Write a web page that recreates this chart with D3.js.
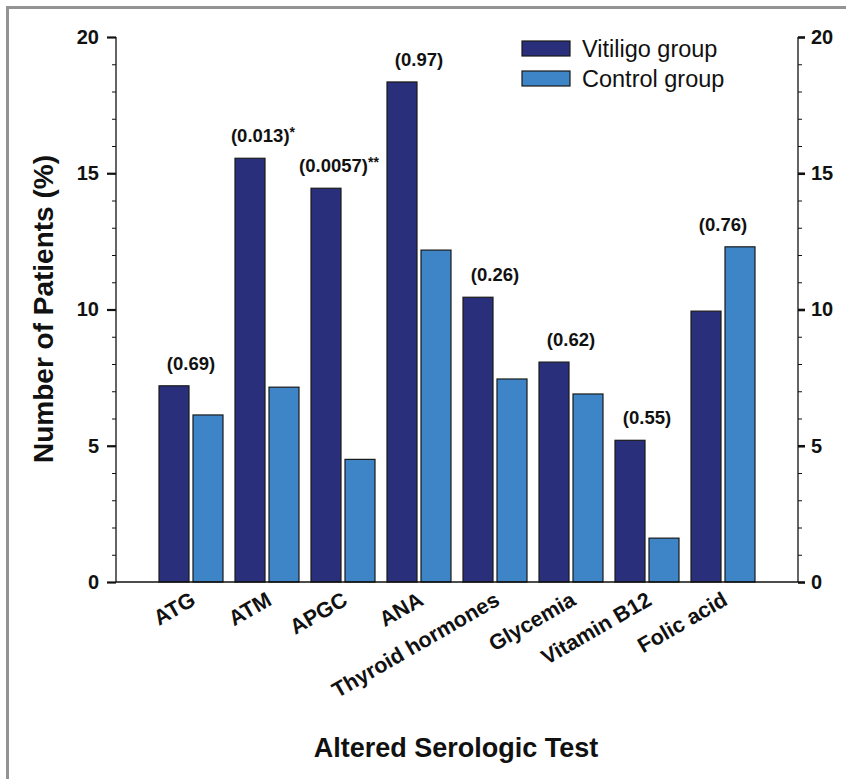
<!DOCTYPE html>
<html>
<head>
<meta charset="utf-8">
<script src="https://cdn.jsdelivr.net/npm/d3@7"></script>
<style>
  html, body { margin: 0; padding: 0; background: #fff; overflow: hidden; }
  svg { display: block; }
  svg text { font-family: "Liberation Sans", Arial, Helvetica, sans-serif; }
</style>
</head>
<body>
<svg id="chart" width="846" height="779"></svg>
<script>
const categories = ["ATG", "ATM", "APGC", "ANA", "Thyroid hormones", "Glycemia", "Vitamin B12", "Folic acid"];
const seriesNames = ["Vitiligo group", "Control group"];
const vitiligo = [7.2, 15.55, 14.45, 18.35, 10.45, 8.07, 5.2, 9.94];
const control = [6.13, 7.15, 4.5, 12.18, 7.45, 6.9, 1.61, 12.3];
const pValues = ["(0.69)", "(0.013)", "(0.0057)", "(0.97)", "(0.26)", "(0.62)", "(0.55)", "(0.76)"];
const pStars = ["", "*", "**", "", "", "", "", ""];
const yTicks = [0, 5, 10, 15, 20];
const yMinorTicks = d3.range(0, 21, 1);

const colors = ["#2a2f7b", "#3e85c7"];

const svg = d3.select("#chart");

// outer frame (top and left edges visible)
svg.append("path")
  .attr("d", "M7.5,779V7.5H846")
  .attr("fill", "none").attr("stroke", "#939393").attr("stroke-width", 3);

const plotL = 116, plotR = 798, plotT = 37, plotB = 582;

const y = d3.scaleLinear().domain([0, 20]).range([plotB, plotT]);
const x = d3.scaleBand().domain(categories).range([153, 761]).padding(0);
const xs = d3.scaleBand().domain(seriesNames).range([0, x.bandwidth()])
  .paddingInner(0.1176).paddingOuter(0.1765);

const data = categories.map((c, i) => ({
  cat: c,
  vals: [vitiligo[i], control[i]],
  p: pValues[i],
  star: pStars[i]
}));

// bars
const groups = svg.append("g").selectAll("g").data(data).join("g")
  .attr("transform", d => `translate(${x(d.cat)},0)`);
groups.selectAll("rect").data(d => d.vals.map((v, j) => ({ v, s: seriesNames[j], j })))
  .join("rect")
  .attr("x", d => xs(d.s))
  .attr("y", d => y(d.v))
  .attr("width", xs.bandwidth())
  .attr("height", d => y(0) - y(d.v))
  .attr("fill", d => colors[d.j])
  .attr("stroke", "#1a1a1a")
  .attr("stroke-width", 1.2);

// p-value labels
const pl = svg.append("g").selectAll("text").data(data).join("text")
  .attr("x", d => x(d.cat) + x.bandwidth() / 2 + (d.star ? -4 : 0))
  .attr("y", d => y(Math.max(d.vals[0], d.vals[1])) - 16)
  .attr("text-anchor", "middle")
  .attr("font-size", 18.5)
  .attr("font-weight", "bold")
  .attr("fill", "#111");
pl.append("tspan").text(d => d.p);
pl.append("tspan").text(d => d.star).attr("font-size", 14).attr("dy", -5);

// x axis baseline
svg.append("line")
  .attr("x1", plotL).attr("x2", plotR)
  .attr("y1", plotB).attr("y2", plotB)
  .attr("stroke", "#111").attr("stroke-width", 1.3);

function styleAxis(g) {
  g.selectAll("line").attr("stroke", "#111");
  g.selectAll(".domain").attr("stroke", "#111").attr("stroke-width", 1.3);
  g.selectAll("text").attr("font-size", 20).attr("font-weight", "bold").attr("fill", "#111")
    .style("font-family", "Liberation Sans, Arial, sans-serif");
}

// left axis
const gL = svg.append("g").attr("transform", `translate(${plotL},0)`);
gL.append("g").call(d3.axisLeft(y).tickValues(yMinorTicks).tickSize(4).tickFormat(""))
  .call(g => g.select(".domain").remove());
const gLMaj = gL.append("g").call(d3.axisLeft(y).tickValues(yTicks).tickSize(9).tickPadding(8).tickFormat(d3.format("d")))
  .call(g => g.select(".domain").attr("d", `M0,${plotB}V${plotT}`));
styleAxis(gL);
gLMaj.selectAll(".tick line").attr("stroke-width", 2.2);

// right axis
const gR = svg.append("g").attr("transform", `translate(${plotR},0)`);
gR.append("g").call(d3.axisRight(y).tickValues(yMinorTicks).tickSize(4).tickFormat(""))
  .call(g => g.select(".domain").remove());
const gRMaj = gR.append("g").call(d3.axisRight(y).tickValues(yTicks).tickSize(7).tickPadding(6).tickFormat(d3.format("d")))
  .call(g => g.select(".domain").attr("d", `M0,${plotB}V${plotT}`));
styleAxis(gR);
gRMaj.selectAll(".tick line").attr("stroke-width", 2.6);

// x category labels
svg.append("g").selectAll("text").data(categories).join("text")
  .attr("transform", d => `translate(${x(d) + x.bandwidth() / 2 + 6},${plotB + 22}) rotate(-30)`)
  .attr("text-anchor", "end")
  .attr("font-size", 21.5)
  .attr("font-weight", "bold")
  .attr("fill", "#111")
  .text(d => d);

// axis titles
svg.append("text")
  .attr("x", 456).attr("y", 757)
  .attr("text-anchor", "middle")
  .attr("font-size", 27).attr("font-weight", "bold").attr("fill", "#111")
  .text("Altered Serologic Test");

svg.append("text")
  .attr("transform", `translate(53,309) rotate(-90)`)
  .attr("text-anchor", "middle")
  .attr("font-size", 28).attr("font-weight", "bold").attr("fill", "#111")
  .text("Number of Patients (%)");

// legend
const lg = svg.append("g").attr("transform", "translate(522,41)");
const li = lg.selectAll("g").data(seriesNames).join("g")
  .attr("transform", (d, i) => `translate(0,${i * 30})`);
li.append("rect").attr("width", 48).attr("height", 15)
  .attr("fill", (d, i) => colors[i]).attr("stroke", "#1a1a1a").attr("stroke-width", 1.2);
li.append("text").attr("x", 60).attr("y", 15.5)
  .attr("font-size", 23.5).attr("fill", "#111").text(d => d);
</script>
</body>
</html>
